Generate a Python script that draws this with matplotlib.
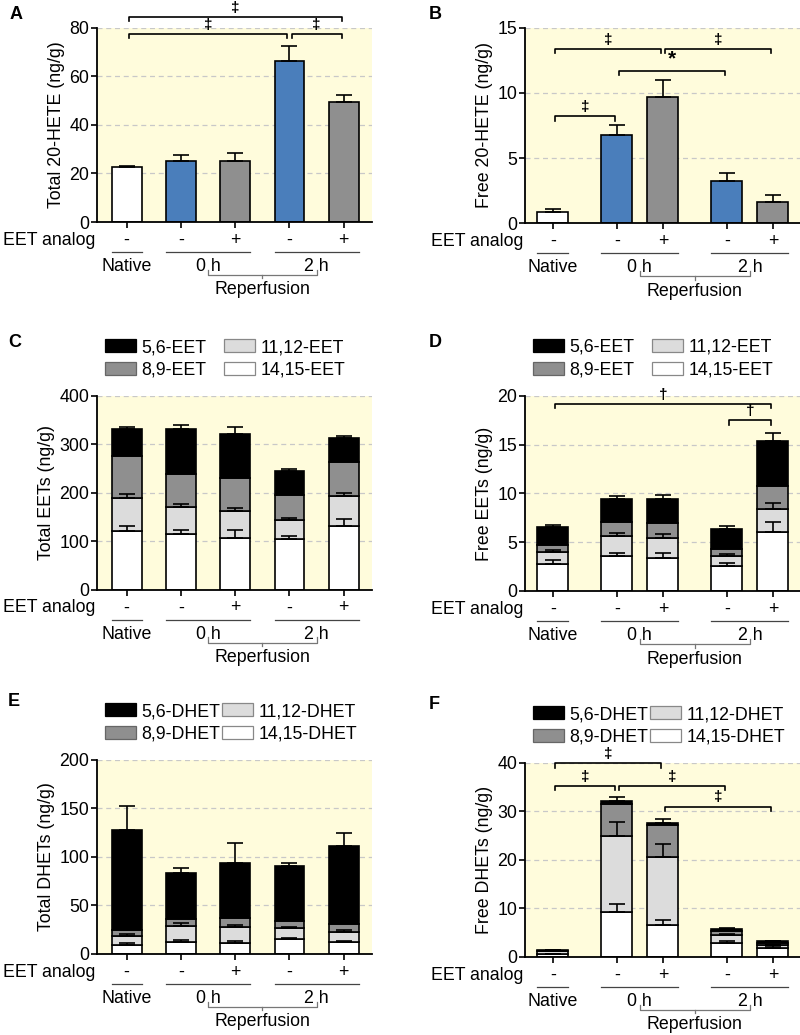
import matplotlib.pyplot as plt
import matplotlib.transforms as mtransforms
from matplotlib.patches import Patch
import numpy as np

plt.rcParams['font.family'] = ['Liberation Sans', 'DejaVu Sans']
FS = 12.8
plt.rcParams['font.size'] = FS

# --- data ---
treatment = ['-', '-', '+', '-', '+']
groups = ['Native', '0 h', '2 h']
group_members = [[0], [1, 2], [3, 4]]

# A: total 20-HETE (ng/g)
total_hete = [22.5, 25.0, 25.0, 66.3, 49.5]
total_hete_sem = [0.6, 2.8, 3.3, 6.2, 3.0]
# B: free 20-HETE (ng/g)
free_hete = [0.85, 6.8, 9.7, 3.2, 1.65]
free_hete_sem = [0.2, 0.7, 1.3, 0.65, 0.5]

# C: total EETs, segments bottom -> top
total_eet_1415 = [122, 115, 108, 104, 132]
total_eet_1112 = [68, 55, 55, 40, 62]
total_eet_89 = [86, 68, 68, 51, 70]
total_eet_56 = [55, 93, 90, 51, 50]
total_eet_1415_sem = [10, 8, 15, 7, 14]
total_eet_1112_sem = [8, 7, 6, 3.5, 5]
total_eet_56_sem = [5, 9, 14, 4, 3]

# D: free EETs
free_eet_1415 = [2.8, 3.56, 3.42, 2.53, 6.05]
free_eet_1112 = [1.2, 2.04, 2.02, 1.06, 2.39]
free_eet_89 = [0.75, 1.48, 1.53, 0.75, 2.33]
free_eet_56 = [1.81, 2.32, 2.5, 2.05, 4.61]
free_eet_1415_sem = [0.4, 0.34, 0.48, 0.37, 1.03]
free_eet_1112_sem = [0.17, 0.35, 0.36, 0.24, 0.59]
free_eet_56_sem = [0.24, 0.34, 0.41, 0.28, 0.86]

# E: total DHETs
total_dhet_1415 = [9.3, 12.7, 11.0, 15.1, 12.4]
total_dhet_1112 = [9.3, 16.6, 17.2, 11.4, 10.7]
total_dhet_89 = [6.2, 6.8, 8.6, 7.9, 7.9]
total_dhet_56 = [102.6, 47.2, 56.5, 56.1, 79.8]
total_dhet_1415_sem = [1.7, 1.8, 2.8, 1.1, 1.4]
total_dhet_1112_sem = [2.1, 2.4, 1.4, 1.0, 1.7]
total_dhet_56_sem = [24.6, 5.2, 21.3, 2.8, 13.8]

# F: free DHETs
free_dhet_1415 = [0.6, 9.25, 6.64, 2.88, 1.85]
free_dhet_1112 = [0.56, 15.75, 13.96, 1.57, 0.55]
free_dhet_89 = [0.14, 6.6, 6.7, 0.82, 0.4]
free_dhet_56 = [0.14, 0.6, 0.4, 0.53, 0.4]
free_dhet_1415_sem = [0.1, 1.65, 1.03, 0.32, 0.35]
free_dhet_1112_sem = [0.05, 2.9, 2.7, 0.35, 0.1]
free_dhet_56_sem = [0.06, 0.7, 0.8, 0.16, 0.15]

eet_labels = ['5,6-EET', '8,9-EET', '11,12-EET', '14,15-EET']
dhet_labels = ['5,6-DHET', '8,9-DHET', '11,12-DHET', '14,15-DHET']

# significance brackets: (bar i, bar j, height, symbol)
sig_a = [(0, 4, 84.5, '‡'), (0, 3, 77.5, '‡'), (3, 4, 77.5, '‡')]
sig_b = [(0, 2, 13.4, '‡'), (2, 4, 13.4, '‡'), (1, 3, 11.7, '*'), (0, 1, 8.2, '‡')]
sig_d = [(0, 4, 19.2, '†'), (3, 4, 17.5, '†')]
sig_f = [(0, 2, 39.9, '‡'), (0, 1, 35.2, '‡'), (1, 3, 35.2, '‡'), (2, 4, 31.0, '‡')]

# --- styling ---
BG = '#fffcdc'
BLUE = '#4a7ebb'
GREY = '#8f8f8f'
LIGHT = '#dcdcdc'
seg_colors = ['white', LIGHT, GREY, 'black']  # bottom -> top

x_even = np.array([0, 1, 2, 3, 4], dtype=float)
x_gap = np.array([0, 1.39, 2.39, 3.78, 4.78])

fig = plt.figure(figsize=(8, 10.35), dpi=100)


def make_axes(rect, x, width, xlim, ylim, yticks, ylabel):
    ax = fig.add_axes(rect)
    ax.set_facecolor(BG)
    ax.set_xlim(*xlim)
    ax.set_ylim(*ylim)
    ax.set_yticks(yticks)
    ax.set_xticks(x)
    ax.set_xticklabels([])
    for s in ['top', 'right']:
        ax.spines[s].set_visible(False)
    for s in ['left', 'bottom']:
        ax.spines[s].set_linewidth(1.3)
    ax.tick_params(direction='out', length=4, width=1.2, labelsize=FS, pad=1.5)
    for t in yticks[1:]:
        ax.axhline(t, color='#c8c8c8', lw=0.9, ls=(0, (4, 3)), zorder=0.5)
    ax.set_ylabel(ylabel, fontsize=FS, labelpad=3)

    # category labels below the axis
    tr = mtransforms.blended_transform_factory(ax.transData, ax.transAxes)
    ax.text(-0.005, -0.093, 'EET analog', transform=ax.transAxes,
            ha='right', va='center', fontsize=FS)
    for xi, t in zip(x, treatment):
        ax.text(xi, -0.093, t, transform=tr, ha='center', va='center', fontsize=FS)
    centers = []
    for name, members in zip(groups, group_members):
        x0 = x[members[0]] - width / 2
        x1 = x[members[-1]] + width / 2
        ax.plot([x0, x1], [-0.155, -0.155], transform=tr, color='#444444',
                lw=0.9, clip_on=False)
        c = np.mean(x[members])
        centers.append(c)
        ax.text(c, -0.227, name, transform=tr, ha='center', va='center', fontsize=FS)
    c0, c1 = centers[1], centers[2]
    ax.plot([c0, c0, c1, c1], [-0.245, -0.273, -0.273, -0.245], transform=tr,
            color='#777777', lw=0.9, clip_on=False)
    cm = (c0 + c1) / 2
    ax.plot([cm, cm], [-0.273, -0.29], transform=tr, color='#777777', lw=0.9,
            clip_on=False)
    ax.text(cm, -0.35, 'Reperfusion', transform=tr, ha='center', va='center',
            fontsize=FS)
    return ax


def add_sig(ax, x, sigs):
    span = ax.get_ylim()[1] - ax.get_ylim()[0]
    tip = 0.022 * span
    for i, j, y, sym in sigs:
        x0, x1 = x[i] + 0.04, x[j] - 0.04
        ax.plot([x0, x0, x1, x1], [y - tip, y, y, y - tip], color='black',
                lw=1.2, clip_on=False, zorder=5)
        ax.annotate(sym, xy=((x0 + x1) / 2, y), xytext=(0, 1.5),
                    textcoords='offset points', ha='center', va='bottom',
                    fontsize=11 if sym != '*' else 15, fontweight='bold',
                    annotation_clip=False)


def simple_bars(ax, x, width, vals, sems):
    colors = ['white', BLUE, GREY, BLUE, GREY]
    ax.bar(x, vals, width=width, color=colors, edgecolor='black', lw=1.2, zorder=2)
    ax.errorbar(x, vals, yerr=[np.zeros(len(vals)), sems], fmt='none',
                ecolor='black', elinewidth=1.2, capsize=6, capthick=1.2, zorder=3)


def stacked_bars(ax, x, width, segs, sems, labels, colspace):
    bottom = np.zeros(len(x))
    for k, (seg, sem) in enumerate(zip(segs, sems)):
        seg = np.array(seg, dtype=float)
        ax.bar(x, seg, width=width, bottom=bottom, color=seg_colors[k],
               edgecolor='black', lw=1.2, zorder=2)
        top = bottom + seg
        if sem is not None:
            ax.errorbar(x, top, yerr=[np.zeros(len(x)), sem], fmt='none',
                        ecolor='black', elinewidth=1.2, capsize=6, capthick=1.2,
                        zorder=3)
        bottom = top
    # legend: 5,6 / 8,9 left column, 11,12 / 14,15 right column
    edge = ['black', '#666666', '#888888', '#888888']
    fills = ['black', GREY, LIGHT, 'white']
    handles = [Patch(facecolor=f, edgecolor=e, lw=0.9, label=lab)
               for lab, f, e in zip(labels, fills, edge)]
    ax.legend(handles=handles, ncol=2, loc='lower left',
              bbox_to_anchor=(0.03, 1.09), frameon=False, borderpad=0,
              borderaxespad=0, handlelength=1.75, handleheight=0.75,
              handletextpad=0.3, labelspacing=0.3,
              columnspacing=colspace, fontsize=FS)


xl_even = (-0.55, 4.52)
xl_gap = (-0.61, 5.37)
w_even = 0.55
w_gap = 0.67

# A
axA = make_axes([0.121, 0.7855, 0.344, 0.1875], x_even, w_even, xl_even,
                (0, 80), [0, 20, 40, 60, 80], 'Total 20-HETE (ng/g)')
simple_bars(axA, x_even, w_even, total_hete, total_hete_sem)
add_sig(axA, x_even, sig_a)

# B
axB = make_axes([0.656, 0.7845, 0.344, 0.1885], x_gap, w_gap, xl_gap,
                (0, 15), [0, 5, 10, 15], 'Free 20-HETE (ng/g)')
simple_bars(axB, x_gap, w_gap, free_hete, free_hete_sem)
add_sig(axB, x_gap, sig_b)

# C
axC = make_axes([0.121, 0.430, 0.344, 0.1875], x_even, w_even, xl_even,
                (0, 400), [0, 100, 200, 300, 400], 'Total EETs (ng/g)')
stacked_bars(axC, x_even, w_even,
             [total_eet_1415, total_eet_1112, total_eet_89, total_eet_56],
             [total_eet_1415_sem, total_eet_1112_sem, None, total_eet_56_sem],
             eet_labels, 1.0)

# D
axD = make_axes([0.656, 0.429, 0.344, 0.1885], x_gap, w_gap, xl_gap,
                (0, 20), [0, 5, 10, 15, 20], 'Free EETs (ng/g)')
stacked_bars(axD, x_gap, w_gap,
             [free_eet_1415, free_eet_1112, free_eet_89, free_eet_56],
             [free_eet_1415_sem, free_eet_1112_sem, None, free_eet_56_sem],
             eet_labels, 1.0)
add_sig(axD, x_gap, sig_d)

# E
axE = make_axes([0.121, 0.0783, 0.344, 0.1875], x_even, w_even, xl_even,
                (0, 200), [0, 50, 100, 150, 200], 'Total DHETs (ng/g)')
stacked_bars(axE, x_even, w_even,
             [total_dhet_1415, total_dhet_1112, total_dhet_89, total_dhet_56],
             [total_dhet_1415_sem, total_dhet_1112_sem, None, total_dhet_56_sem],
             dhet_labels, 0.1)

# F
axF = make_axes([0.656, 0.0754, 0.344, 0.1875], x_gap, w_gap, xl_gap,
                (0, 40), [0, 10, 20, 30, 40], 'Free DHETs (ng/g)')
stacked_bars(axF, x_gap, w_gap,
             [free_dhet_1415, free_dhet_1112, free_dhet_89, free_dhet_56],
             [free_dhet_1415_sem, free_dhet_1112_sem, None, free_dhet_56_sem],
             dhet_labels, 0.1)
add_sig(axF, x_gap, sig_f)

# panel letters
for lab, (fx, fy) in zip('ABCDEF', [(0.012, 0.994), (0.536, 0.994),
                                    (0.010, 0.677), (0.536, 0.677),
                                    (0.010, 0.330), (0.536, 0.328)]):
    fig.text(fx, fy, lab, fontsize=13, fontweight='bold', va='top', ha='left')

fig.savefig('out.png', dpi=100)
